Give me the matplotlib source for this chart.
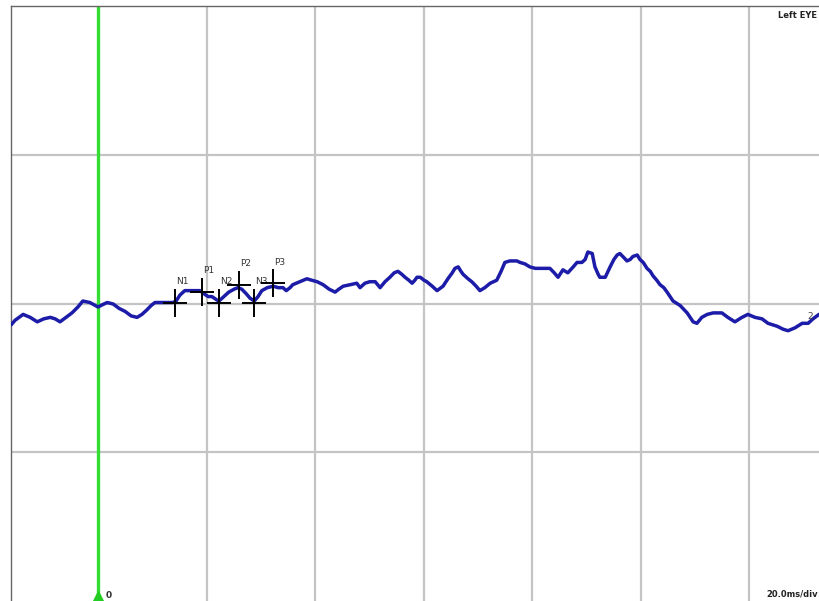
import numpy as np
import matplotlib
matplotlib.use('Agg')
import matplotlib.pyplot as plt

# Trace: latency (ms) and amplitude (uV, 10 uV per division)
time_ms = [-16.0, -15.3, -13.8, -12.5, -11.2, -10.0, -8.8, -7.9, -7.0, -5.9,
           -4.8, -3.7, -2.8, -1.5, 0.0, 1.1, 1.7, 2.8, 3.9, 5.0,
           6.1, 7.2, 8.1, 9.0, 9.8, 10.5, 11.6, 12.7, 13.8, 14.4,
           15.1, 16.0, 17.0, 18.1, 18.8, 19.5, 20.3, 21.0, 21.8, 22.3,
           23.2, 24.1, 25.1, 25.8, 26.5, 27.3, 28.0, 28.8, 29.5, 30.2,
           31.2, 32.3, 33.2, 34.1, 34.7, 35.4, 35.9, 37.2, 38.5, 39.4,
           40.4, 41.5, 42.6, 43.7, 44.4, 45.2, 46.5, 47.7, 48.3, 49.2,
           50.1, 51.1, 52.0, 52.9, 53.8, 54.6, 55.3, 56.0, 56.6, 57.3,
           57.9, 58.4, 58.8, 59.4, 60.1, 60.6, 61.6, 62.5, 63.6, 64.5,
           65.3, 65.8, 66.4, 66.9, 67.3, 68.2, 68.9, 69.7, 70.4, 71.3,
           72.3, 73.5, 74.3, 75.0, 75.9, 77.2, 77.8, 78.7, 79.6, 80.6,
           81.5, 82.8, 83.3, 84.1, 84.8, 85.7, 86.6, 87.6, 88.3, 89.2,
           89.8, 90.3, 91.1, 91.6, 92.2, 92.5, 93.5, 94.4, 95.1, 95.7,
           96.2, 97.0, 97.5, 98.1, 98.6, 99.4, 99.9, 100.5, 101.2, 101.8,
           102.3, 103.0, 103.6, 104.3, 104.9, 106.0, 107.3, 108.6, 109.7, 110.4,
           111.3, 112.3, 113.4, 115.0, 116.1, 117.4, 118.7, 119.8, 121.1, 122.4,
           123.5, 125.2, 126.3, 127.2, 128.5, 129.8, 130.9, 131.8, 132.9]
amp_uv = [-1.4, -1.1, -0.7, -0.9, -1.2, -1.0, -0.9, -1.0, -1.2, -0.9,
          -0.6, -0.2, 0.2, 0.1, -0.2, 0.0, 0.1, 0.0, -0.3, -0.5,
          -0.8, -0.9, -0.7, -0.4, -0.1, 0.1, 0.1, 0.1, 0.1, 0.2,
          0.6, 0.9, 0.9, 0.9, 0.9, 0.7, 0.5, 0.5, 0.3, 0.2,
          0.5, 0.8, 1.0, 1.1, 1.0, 0.7, 0.4, 0.2, 0.5, 0.9,
          1.1, 1.2, 1.1, 1.1, 0.9, 1.1, 1.3, 1.5, 1.7, 1.6,
          1.5, 1.3, 1.0, 0.8, 1.0, 1.2, 1.3, 1.4, 1.1, 1.4,
          1.5, 1.5, 1.1, 1.5, 1.8, 2.1, 2.2, 2.0, 1.8, 1.6,
          1.4, 1.6, 1.8, 1.8, 1.6, 1.5, 1.2, 0.9, 1.2, 1.7,
          2.1, 2.4, 2.5, 2.2, 2.0, 1.7, 1.5, 1.2, 0.9, 1.1,
          1.4, 1.6, 2.2, 2.8, 2.9, 2.9, 2.8, 2.7, 2.5, 2.4,
          2.4, 2.4, 2.4, 2.1, 1.8, 2.3, 2.1, 2.5, 2.8, 2.8,
          3.0, 3.5, 3.4, 2.5, 2.0, 1.8, 1.8, 2.5, 3.0, 3.3,
          3.4, 3.1, 2.9, 3.0, 3.2, 3.3, 3.0, 2.8, 2.4, 2.2,
          1.9, 1.6, 1.3, 1.1, 0.8, 0.2, -0.1, -0.6, -1.2, -1.3,
          -0.9, -0.7, -0.6, -0.6, -0.9, -1.2, -0.9, -0.7, -0.9, -1.0,
          -1.3, -1.5, -1.7, -1.8, -1.6, -1.3, -1.3, -1.0, -0.7]

# Peak markers
peak_names = ['N1', 'P1', 'N2', 'P2', 'N3', 'P3']
peak_ms = [14.2, 19.2, 22.3, 26.0, 28.8, 32.3]
peak_uv = [0.1, 0.8, 0.1, 1.3, 0.1, 1.4]

W, H = 819, 601
fig = plt.figure(figsize=(W / 100, H / 100), dpi=100)
# axes box in pixels: left 11, top 6, runs off right/bottom edge
ax = fig.add_axes([11 / W, -4 / H, 812 / W, 599 / H])

ms_per_px = 20 / 108.5
uv_per_px = 10 / 148.5
ax.set_xlim((11 - 98) * ms_per_px, (823 - 98) * ms_per_px)
ax.set_ylim((304 - 605) * uv_per_px, (304 - 6) * uv_per_px)

for t in range(20, 140, 20):
    ax.axvline(t, color='#c4c4c4', lw=1.6, zorder=1)
for a in (-10, 0, 10):
    ax.axhline(a, color='#c4c4c4', lw=1.6, zorder=1)

# stimulus onset line
ax.axvline(0, color='#33dd33', lw=2.4, zorder=2)
ax.plot([0], [(304 - 597) * uv_per_px], marker='^', color='#22cc22',
        markersize=8, zorder=4, clip_on=False)
ax.text(1.4, (304 - 596) * uv_per_px, '0', fontsize=6.5, fontweight='bold',
        color='#333333', va='center')

ax.plot(time_ms, amp_uv, color='#1c1ca8', lw=2.5, zorder=3,
        solid_capstyle='round', solid_joinstyle='round')

for name, t, a in zip(peak_names, peak_ms, peak_uv):
    ax.plot(t, a, marker='|', color='black', markersize=20, mew=1.4, zorder=5)
    ax.plot(t, a, marker='_', color='black', markersize=17, mew=1.4, zorder=5)
    ax.annotate(name, (t, a), xytext=(5, 12), textcoords='offset points',
                ha='center', va='bottom', fontsize=6.5, color='#333333')

ax.text(131.3, -0.85, '2', fontsize=6.5, color='#444444', va='center',
        ha='center', zorder=6)

ax.set_xticks([])
ax.set_yticks([])
for s in ('left', 'top'):
    ax.spines[s].set_color('#666666')
    ax.spines[s].set_linewidth(1.0)
for s in ('right', 'bottom'):
    ax.spines[s].set_visible(False)

fig.text(817 / W, 1 - 15 / H, 'Left EYE', fontsize=6, fontweight='bold',
         color='#222222', va='center', ha='right')
fig.text(818 / W, 1 - 594 / H, '20.0ms/div', fontsize=6, fontweight='bold',
         color='#222222', va='center', ha='right')

fig.savefig('out.png', dpi=100)
